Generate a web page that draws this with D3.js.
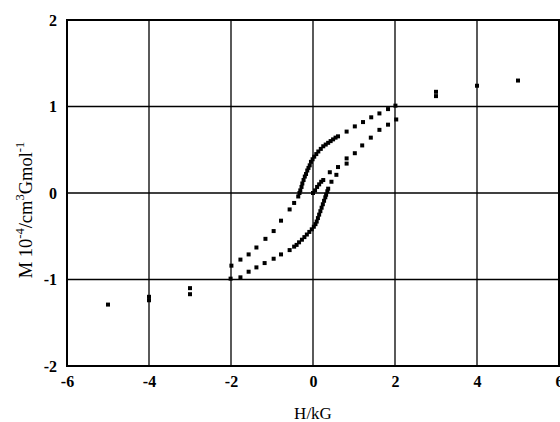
<!DOCTYPE html>
<html>
<head>
<meta charset="utf-8">
<script src="https://cdn.jsdelivr.net/npm/d3@7"></script>
<style>
  body { margin: 0; background: #fff; }
  text { font-family: "Liberation Serif", "Times New Roman", serif; fill: #000; }
</style>
</head>
<body>
<svg id="chart" width="560" height="422"></svg>
<script>
// field values (kG) and magnetisation (10^-4 cm^3 G mol^-1)
const outerH = [-5, -4, -4, -3, -3, 3, 3, 4, 5];
const outerM = [-1.29, -1.20, -1.24, -1.10, -1.17, 1.12, 1.17, 1.24, 1.30];

// descending branch (upper)
const upperH = [2.01, 1.83, 1.62, 1.42, 1.22, 1.02, 0.82,
  0.61, 0.55, 0.49, 0.43, 0.37, 0.31, 0.25, 0.19, 0.13, 0.08, 0.03, -0.01, -0.05,
  -0.08, -0.11, -0.14, -0.17, -0.20, -0.23, -0.26, -0.28, -0.31, -0.33, -0.36,
  -0.46, -0.57, -0.78, -0.96, -1.16, -1.38, -1.57, -1.77, -1.99];
const upperM = [1.01, 0.97, 0.92, 0.875, 0.82, 0.77, 0.71,
  0.655, 0.64, 0.62, 0.60, 0.58, 0.56, 0.54, 0.51, 0.48, 0.45, 0.42, 0.39, 0.36,
  0.32, 0.29, 0.26, 0.22, 0.19, 0.15, 0.11, 0.07, 0.03, 0.00, -0.04,
  -0.115, -0.19, -0.32, -0.44, -0.53, -0.63, -0.71, -0.77, -0.84];

// ascending branch (lower)
const lowerH = [-2.01, -1.77, -1.57, -1.38, -1.18, -0.96, -0.78, -0.57,
  -0.46, -0.40, -0.34, -0.27, -0.21, -0.15, -0.09, -0.03, 0.02, 0.06, 0.09, 0.12,
  0.15, 0.18, 0.21, 0.24, 0.27, 0.30, 0.32, 0.35, 0.37,
  0.45, 0.57, 0.41, 0.61, 0.82, 0.82, 1.02, 1.20, 1.41, 1.62, 1.83, 2.03];
const lowerM = [-0.99, -0.975, -0.91, -0.86, -0.81, -0.76, -0.71, -0.66,
  -0.62, -0.60, -0.57, -0.54, -0.51, -0.48, -0.45, -0.42, -0.39, -0.36, -0.33, -0.29,
  -0.25, -0.21, -0.17, -0.13, -0.09, -0.05, -0.02, 0.02, 0.05,
  0.13, 0.21, 0.24, 0.30, 0.34, 0.40, 0.46, 0.55, 0.64, 0.73, 0.79, 0.85];

// initial magnetisation curve
const virginH = [0, 0.05, 0.10, 0.15, 0.20, 0.25];
const virginM = [0, 0.03, 0.07, 0.10, 0.13, 0.15];

const xTicks = [-6, -4, -2, 0, 2, 4, 6];
const yTicks = [-2, -1, 0, 1, 2];

const margin = {top: 20, right: 1, bottom: 56, left: 67};
const width = 560, height = 422;

const svg = d3.select("#chart");

const x = d3.scaleLinear().domain([-6, 6]).range([margin.left, width - margin.right]);
const y = d3.scaleLinear().domain([-2, 2]).range([height - margin.bottom, margin.top]);

// grid
svg.append("g")
  .selectAll("line")
  .data(xTicks.slice(1, -1))
  .join("line")
  .attr("x1", d => x(d)).attr("x2", d => x(d))
  .attr("y1", y(-2)).attr("y2", y(2))
  .attr("stroke", "#000").attr("stroke-width", 1.3);

svg.append("g")
  .selectAll("line")
  .data(yTicks.slice(1, -1))
  .join("line")
  .attr("y1", d => y(d)).attr("y2", d => y(d))
  .attr("x1", x(-6)).attr("x2", x(6))
  .attr("stroke", "#000").attr("stroke-width", 1.3);

// frame
svg.append("rect")
  .attr("x", x(-6)).attr("y", y(2))
  .attr("width", x(6) - x(-6)).attr("height", y(-2) - y(2))
  .attr("fill", "none").attr("stroke", "#000").attr("stroke-width", 2);

// axes (labels only, lines drawn above)
const fmt = d => String(d);
const xAxis = g => g
  .attr("transform", `translate(0,${y(-2)})`)
  .call(d3.axisBottom(x).tickValues(xTicks).tickFormat(fmt).tickSize(0).tickPadding(10))
  .call(g => g.select(".domain").remove());
const yAxis = g => g
  .attr("transform", `translate(${x(-6)},0)`)
  .call(d3.axisLeft(y).tickValues(yTicks).tickFormat(fmt).tickSize(0).tickPadding(10))
  .call(g => g.select(".domain").remove());

svg.append("g").call(xAxis)
  .selectAll("text")
  .attr("font-family", "Liberation Serif, serif")
  .attr("font-size", 16).attr("font-weight", "bold");
svg.append("g").call(yAxis)
  .selectAll("text")
  .attr("font-family", "Liberation Serif, serif")
  .attr("font-size", 16).attr("font-weight", "bold");

// points
const pts = [];
const add = (hs, ms) => hs.forEach((h, i) => pts.push([h, ms[i]]));
add(outerH, outerM);
add(upperH, upperM);
add(lowerH, lowerM);
add(virginH, virginM);

svg.append("g")
  .selectAll("rect")
  .data(pts)
  .join("rect")
  .attr("x", d => x(d[0]) - 2)
  .attr("y", d => y(d[1]) - 2)
  .attr("width", 4).attr("height", 4)
  .attr("fill", "#000");

// axis titles
svg.append("text")
  .attr("x", x(0)).attr("y", 419)
  .attr("text-anchor", "middle")
  .attr("font-size", 17)
  .text("H/kG");

const yt = svg.append("text")
  .attr("transform", `translate(32,210) rotate(-90)`)
  .attr("text-anchor", "middle")
  .attr("font-size", 18.5);
yt.append("tspan").text("M 10");
yt.append("tspan").attr("font-size", 12.5).attr("dy", -8).text("-4");
yt.append("tspan").attr("dy", 8).text("/cm");
yt.append("tspan").attr("font-size", 12.5).attr("dy", -8).text("3");
yt.append("tspan").attr("dy", 8).text("Gmol");
yt.append("tspan").attr("font-size", 12.5).attr("dy", -8).text("-1");
</script>
</body>
</html>
